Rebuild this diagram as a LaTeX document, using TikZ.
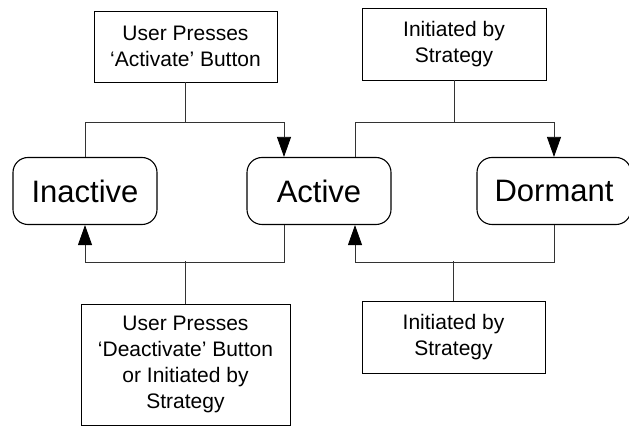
\documentclass[tikz,border=0pt]{standalone}
\usepackage{fontspec}
\setmainfont{Liberation Sans}
\usetikzlibrary{arrows.meta,calc}

\begin{document}
\begin{tikzpicture}[x=1pt,y=-1pt,
		state/.style={draw, rounded corners=15pt, line width=1.1pt, minimum width=144pt, minimum height=67pt, inner sep=0pt, font=\fontsize{31}{36}\selectfont},
		note/.style={draw, line width=0.8pt, align=center, inner sep=0pt, font=\fontsize{21}{26}\selectfont},
		link/.style={line width=0.8pt, draw=black!80},
		tip/.style={link, -{Triangle[length=20pt,width=14pt,black]}}]
		\useasboundingbox (0,0) rectangle (629,427);

		\node[state] (inactive) at (85,191) {Inactive};
		\node[state] (active) at (319,191) {Active};
		\node[state, minimum width=154pt] (dormant) at (554,191) {Dormant};

		\node[note, minimum width=183pt, minimum height=71pt] (activate) at (185.5,46.5) {User Presses\\‘Activate’ Button};
		\node[note, minimum width=184pt, minimum height=72pt] (sleep) at (454,44) {Initiated by\\Strategy};
		\node[note, minimum width=209pt, minimum height=121pt] (deactivate) at (185.5,364.5) {User Presses\\‘Deactivate’ Button\\or Initiated by\\Strategy};
		\node[note, minimum width=183pt, minimum height=72pt] (wake) at (453.5,337) {Initiated by\\Strategy};

		\coordinate (actTopL) at ($(active.north)+(-35,0)$);
		\coordinate (actTopR) at ($(active.north)+(36,0)$);
		\coordinate (actBotL) at ($(active.south)+(-35,0)$);
		\coordinate (actBotR) at ($(active.south)+(36,0)$);

		\draw[tip] (inactive.north) -- ++(0,-35) -| (actTopL);
		\draw[link] (activate.south) -- (activate.south |- 0,122);
		\draw[tip] (actTopR) -- ++(0,-35) -| (dormant.north);
		\draw[link] (sleep.south) -- (sleep.south |- 0,122);

		\draw[tip] (actBotL) -- ++(0,37) -| (inactive.south);
		\draw[link] (deactivate.north) -- (deactivate.north |- 0,261);
		\draw[tip] (dormant.south) -- ++(0,37) -| (actBotR);
		\draw[link] (wake.north) -- (wake.north |- 0,261);
	\end{tikzpicture}
\end{document}
